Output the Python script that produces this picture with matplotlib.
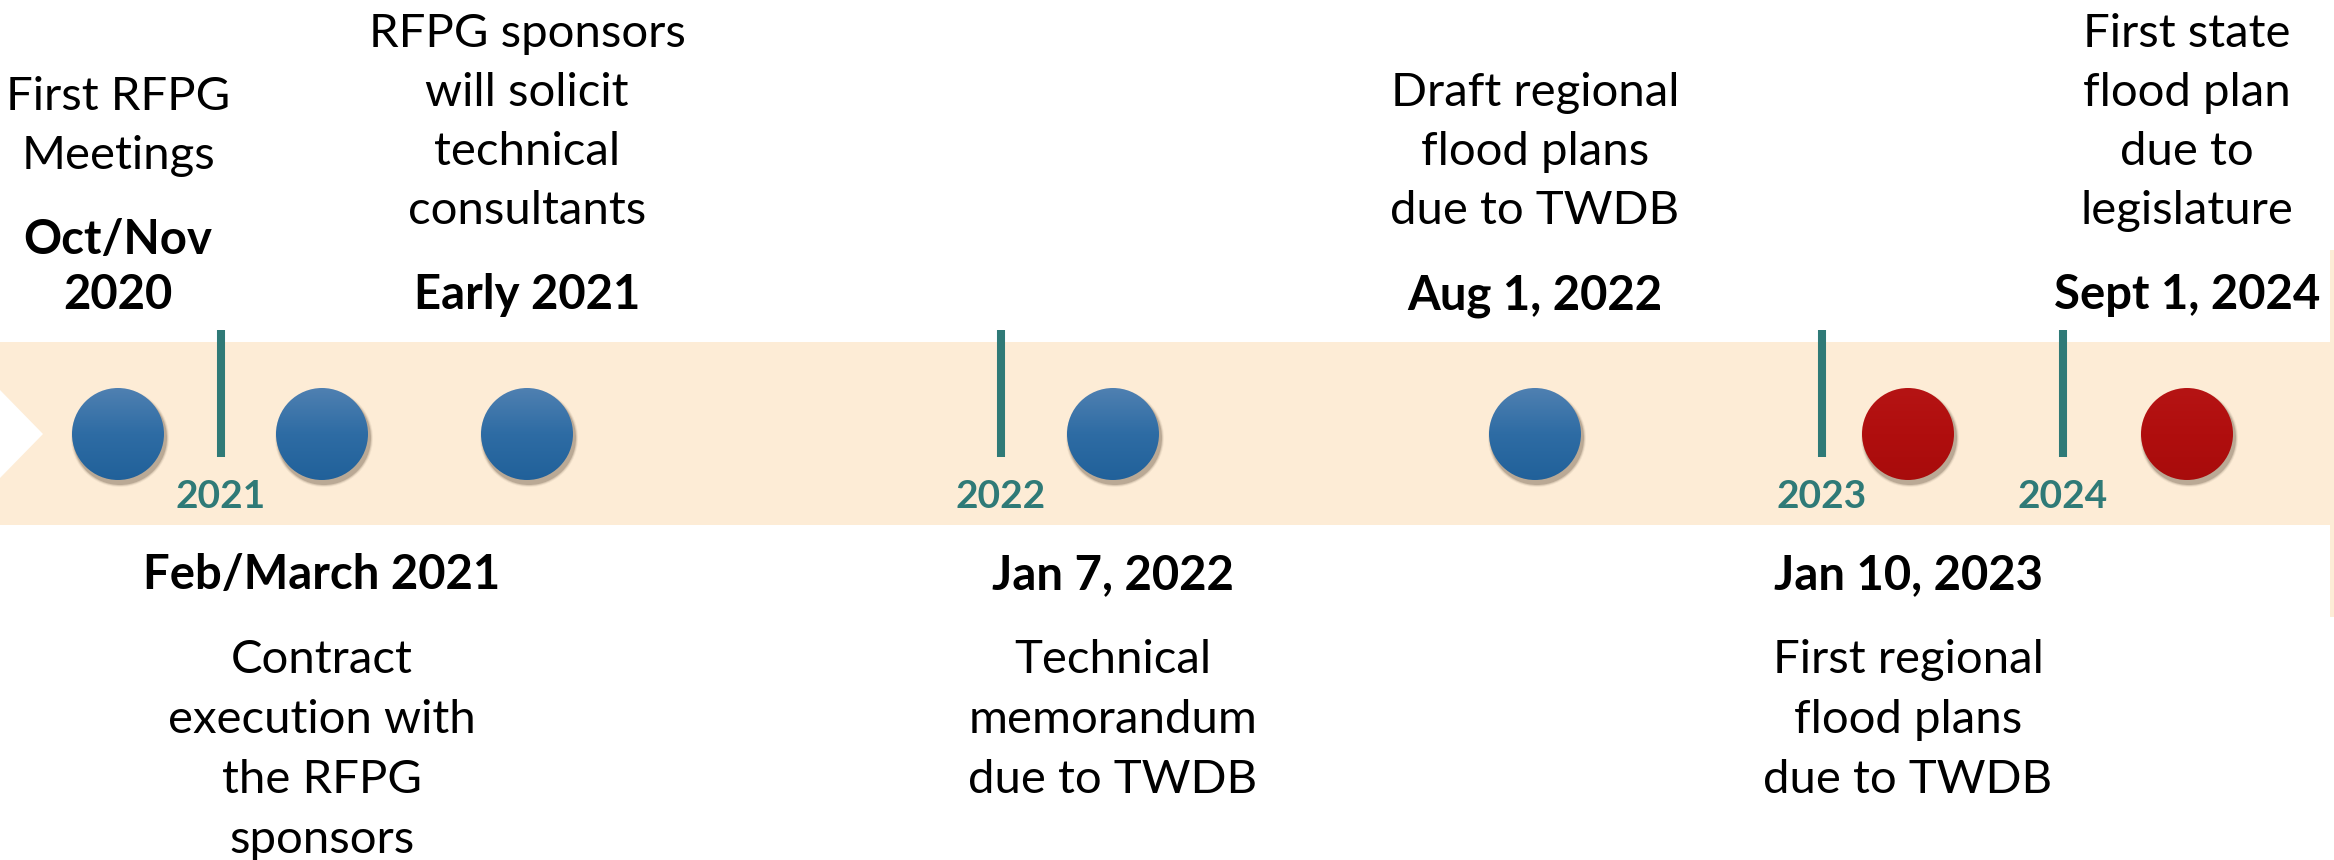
import numpy as np
import matplotlib.pyplot as plt
from matplotlib.patches import Polygon, Circle
from matplotlib.colors import LinearSegmentedColormap

# timeline events (position along the arrow, left to right)
event_pos = [118, 322, 527, 1113, 1535, 1908, 2187]
event_dates = ["Oct/Nov\n2020", "Feb/March 2021", "Early 2021", "Jan 7, 2022",
               "Aug 1, 2022", "Jan 10, 2023", "Sept 1, 2024"]
event_desc = ["First RFPG\nMeetings",
              "Contract\nexecution with\nthe RFPG\nsponsors",
              "RFPG sponsors\nwill solicit\ntechnical\nconsultants",
              "Technical\nmemorandum\ndue to TWDB",
              "Draft regional\nflood plans\ndue to TWDB",
              "First regional\nflood plans\ndue to TWDB",
              "First state\nflood plan\ndue to\nlegislature"]
event_side = ["top", "bottom", "top", "bottom", "top", "bottom", "top"]
event_future = [False, False, False, False, False, True, True]

# year markers on the arrow
year_labels = ["2021", "2022", "2023", "2024"]
year_pos = [221, 1001, 1822, 2063]

W, H = 2334, 860
FONT = ["Lato", "DejaVu Sans"]
TEAL = "#2f7a77"
BAND = "#fdecd6"

fig = plt.figure(figsize=(W / 100, H / 100), dpi=100)
ax = fig.add_axes([0, 0, 1, 1])
ax.set_xlim(0, W)
ax.set_ylim(H, 0)
ax.axis("off")

# arrow band with notch on the left and the cut-off head on the right
band = Polygon([(0, 342), (2330, 342), (2330, 250), (W, 250), (W, 617),
                (2330, 617), (2330, 525), (0, 525), (0, 478), (43, 434), (0, 390)],
               closed=True, fc=BAND, ec="none", zorder=1)
ax.add_patch(band)

# year ticks
ax.vlines(year_pos, 330, 457, color=TEAL, lw=5.8, zorder=2, capstyle="butt")
for yl, yp in zip(year_labels, year_pos):
    ax.text(yp, 508, yl, ha="center", va="baseline", fontsize=28,
            fontweight="bold", color=TEAL, family=FONT, zorder=3)

blue_cm = LinearSegmentedColormap.from_list("b", ["#4f80b1", "#2e6ca4", "#21619a"])
red_cm = LinearSegmentedColormap.from_list("r", ["#b51414", "#b00e0e", "#a80c0c"])
grad = np.linspace(0, 1, 100).reshape(-1, 1)

R = 46
CY = 434
for x, fut in zip(event_pos, event_future):
    # soft shadow
    for k, a in [(6, 0.06), (4, 0.12), (2, 0.2)]:
        ax.add_patch(Circle((x + 2, CY + 4), R + k * 0.5, fc="#3a2a1a",
                            ec="none", alpha=a, zorder=3))
    c = Circle((x, CY), R, fc="none", ec="none", zorder=4)
    ax.add_patch(c)
    im = ax.imshow(grad, cmap=red_cm if fut else blue_cm, aspect="auto",
                   extent=(x - R, x + R, CY + R, CY - R), zorder=4)
    im.set_clip_path(c)

ax.set_xlim(0, W)
ax.set_ylim(H, 0)

TS = 34
DESC_SP = 59
DATE_SP = 55
for x, d, desc, side in zip(event_pos, event_dates, event_desc, event_side):
    dl = d.split("\n")
    tl = desc.split("\n")
    if side == "top":
        # date block ends at baseline 309, description sits above it
        first_date = 309 - (len(dl) - 1) * DATE_SP
        for i, s in enumerate(dl):
            ax.text(x, first_date + i * DATE_SP, s, ha="center", va="baseline",
                    fontsize=TS, fontweight="bold", family=FONT, zorder=5)
        last_desc = first_date - 85
        for i, s in enumerate(tl):
            ax.text(x, last_desc - (len(tl) - 1 - i) * DESC_SP, s, ha="center",
                    va="baseline", fontsize=TS, family=FONT, zorder=5)
    else:
        for i, s in enumerate(dl):
            ax.text(x, 589 + i * DATE_SP, s, ha="center", va="baseline",
                    fontsize=TS, fontweight="bold", family=FONT, zorder=5)
        for i, s in enumerate(tl):
            ax.text(x, 673 + i * 60, s, ha="center", va="baseline",
                    fontsize=TS, family=FONT, zorder=5)

fig.savefig("out.png", dpi=100)
